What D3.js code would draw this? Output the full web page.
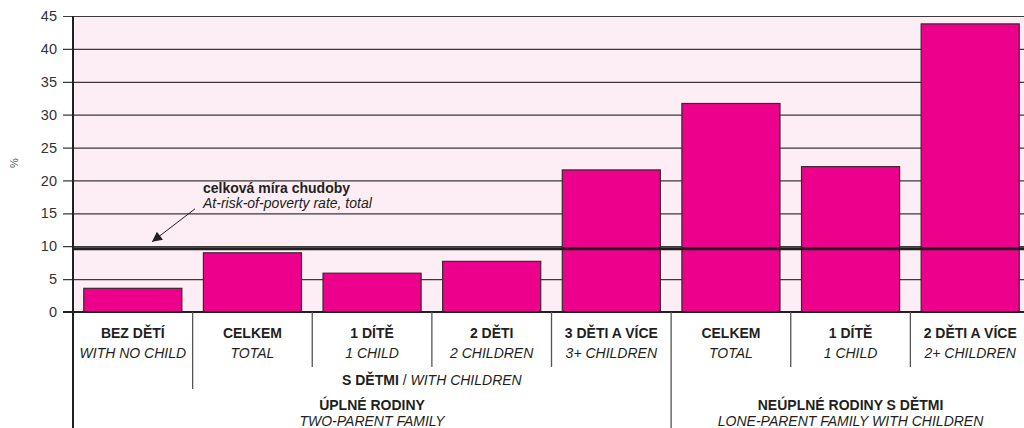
<!DOCTYPE html>
<meta charset="utf-8">
<style>
body { margin: 0; background: #fff; }
svg { display: block; font-family: "Liberation Sans", Arial, Helvetica, sans-serif; }
.bar { fill: #ec008c; stroke: #3a2a30; stroke-width: 1.2px; }
.grid line { stroke: #3a3a3a; stroke-width: 1.2px; }
.grid text { font-size: 14.5px; fill: #333; }
.grid .domain { display: none; }
.cz { font-size: 14px; font-weight: bold; fill: #231f20; }
.en { font-size: 14px; font-style: italic; fill: #231f20; }
.divider { stroke: #555; stroke-width: 1.3px; }
</style>
<svg width="1024" height="428"></svg>
<script src="https://cdn.jsdelivr.net/npm/d3@7"></script>
<script>

// data
var labelsCz = ["BEZ DĚTÍ", "CELKEM", "1 DÍTĚ", "2 DĚTI", "3 DĚTI A VÍCE", "CELKEM", "1 DÍTĚ", "2 DĚTI A VÍCE"];
var labelsEn = ["WITH NO CHILD", "TOTAL", "1 CHILD", "2 CHILDREN", "3+ CHILDREN", "TOTAL", "1 CHILD", "2+ CHILDREN"];
var values = [3.6, 9.0, 5.9, 7.7, 21.6, 31.7, 22.1, 43.8];
var totalRate = 9.6;
var yTicks = [0, 5, 10, 15, 20, 25, 30, 35, 40, 45];

var svg = d3.select("svg");
var plotL = 73, plotR = 1030, plotT = 16, plotB = 312;

var x = d3.scaleBand()
    .domain(d3.range(values.length))
    .range([plotL, plotR])
    .paddingInner(0.18)
    .paddingOuter(0.09);
var step = x.step();
var edge = function(i) { return plotL + i * step; };

var y = d3.scaleLinear().domain([0, 45]).range([plotB, plotT]);

// plot background
svg.append("rect")
    .attr("x", plotL).attr("y", plotT)
    .attr("width", plotR - plotL).attr("height", plotB - plotT)
    .attr("fill", "#fdedf4");

// gridlines + tick labels
svg.append("g")
    .attr("class", "grid")
    .attr("transform", "translate(63,0)")
    .call(d3.axisLeft(y).tickValues(yTicks).tickSize(-(plotR - 63)).tickPadding(6));

// y label
svg.append("text")
    .attr("transform", "translate(18,163) rotate(-90)")
    .attr("text-anchor", "middle")
    .style("font-size", "11px")
    .style("fill", "#555")
    .text("%");

// bars
svg.append("g").selectAll("rect")
    .data(values)
    .enter().append("rect")
    .attr("class", "bar")
    .attr("x", function(d, i) { return x(i); })
    .attr("y", function(d) { return y(d); })
    .attr("width", x.bandwidth())
    .attr("height", function(d) { return y(0) - y(d); });

// total rate line
svg.append("line")
    .attr("x1", plotL).attr("x2", plotR)
    .attr("y1", y(totalRate)).attr("y2", y(totalRate))
    .attr("stroke", "#231f20").attr("stroke-width", 3);

// axes lines
svg.append("line")
    .attr("x1", 63).attr("x2", plotR)
    .attr("y1", y(0)).attr("y2", y(0))
    .attr("stroke", "#231f20").attr("stroke-width", 2.2);
svg.append("line")
    .attr("x1", plotL).attr("x2", plotL)
    .attr("y1", plotT).attr("y2", 428)
    .attr("stroke", "#231f20").attr("stroke-width", 2);

// annotation
svg.append("defs").append("marker")
    .attr("id", "arrow")
    .attr("viewBox", "0 0 10 10")
    .attr("refX", 10).attr("refY", 5)
    .attr("markerWidth", 14).attr("markerHeight", 10)
    .attr("markerUnits", "userSpaceOnUse")
    .attr("orient", "auto")
  .append("path")
    .attr("d", "M0,0L10,5L0,10z")
    .attr("fill", "#231f20");

svg.append("line")
    .attr("x1", 195).attr("y1", y(totalRate) - 40)
    .attr("x2", 152).attr("y2", y(totalRate) - 7)
    .attr("stroke", "#231f20").attr("stroke-width", 1)
    .attr("marker-end", "url(#arrow)");

svg.append("text").attr("class", "cz")
    .attr("x", 203).attr("y", 193)
    .text("celková míra chudoby");
svg.append("text").attr("class", "en")
    .attr("x", 203).attr("y", 208)
    .text("At-risk-of-poverty rate, total");

// category labels
var cats = svg.append("g").selectAll("g")
    .data(values)
    .enter().append("g")
    .attr("transform", function(d, i) { return "translate(" + (edge(i) + step / 2) + ",0)"; });
cats.append("text").attr("class", "cz")
    .attr("text-anchor", "middle").attr("y", 338)
    .text(function(d, i) { return labelsCz[i]; });
cats.append("text").attr("class", "en")
    .attr("text-anchor", "middle").attr("y", 358)
    .text(function(d, i) { return labelsEn[i]; });

// dividers
var dividerEnd = [367, 389, 367, 367, 367, 428, 367, 367];
d3.range(1, values.length).forEach(function(i) {
  svg.append("line").attr("class", "divider")
      .attr("x1", edge(i)).attr("x2", edge(i))
      .attr("y1", y(0)).attr("y2", dividerEnd[i]);
});

// group labels
var withKids = svg.append("text")
    .attr("text-anchor", "middle")
    .attr("x", (edge(1) + edge(5)) / 2).attr("y", 385);
withKids.append("tspan").attr("class", "cz").text("S DĚTMI");
withKids.append("tspan").attr("class", "en").style("font-style", "normal").text(" / ");
withKids.append("tspan").attr("class", "en").text("WITH CHILDREN");

svg.append("text").attr("class", "cz")
    .attr("text-anchor", "middle")
    .attr("x", (edge(0) + edge(5)) / 2).attr("y", 410)
    .text("ÚPLNÉ RODINY");
svg.append("text").attr("class", "en")
    .attr("text-anchor", "middle")
    .attr("x", (edge(0) + edge(5)) / 2).attr("y", 426)
    .text("TWO-PARENT FAMILY");

svg.append("text").attr("class", "cz")
    .attr("text-anchor", "middle")
    .attr("x", (edge(5) + edge(8)) / 2).attr("y", 410)
    .text("NEÚPLNÉ RODINY S DĚTMI");
svg.append("text").attr("class", "en")
    .attr("text-anchor", "middle")
    .attr("x", (edge(5) + edge(8)) / 2).attr("y", 426)
    .text("LONE-PARENT FAMILY WITH CHILDREN");

</script>
